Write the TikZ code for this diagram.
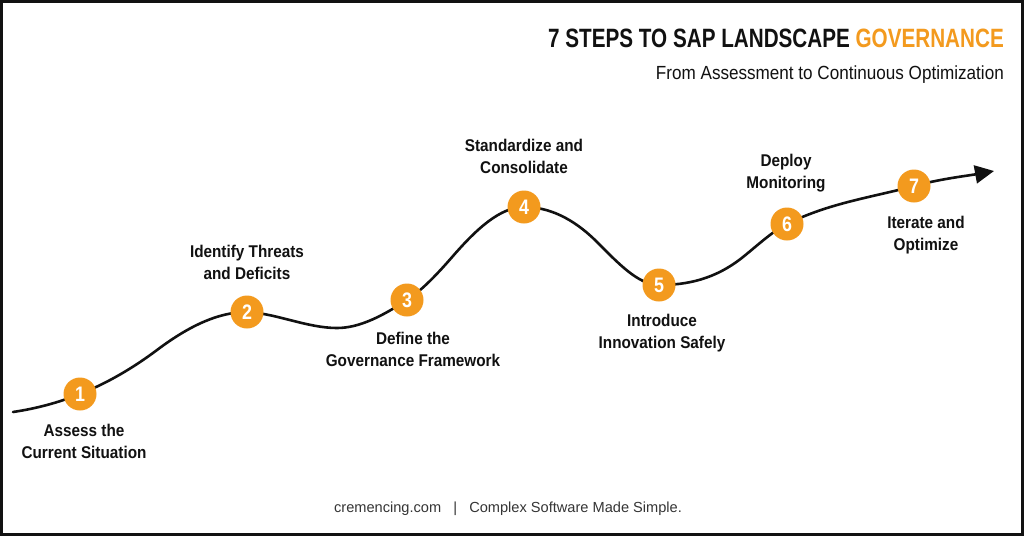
\documentclass[tikz,border=0pt]{standalone}
\usepackage{fontspec}
\setmainfont{Liberation Sans}
\newfontfamily\condT[FakeStretch=0.78]{Liberation Sans}
\newfontfamily\condS[FakeStretch=0.90]{Liberation Sans}
\newfontfamily\condL[FakeStretch=0.90]{Liberation Sans}
\newfontfamily\condN[FakeStretch=0.85]{Liberation Sans}
\usetikzlibrary{arrows.meta}
\definecolor{orng}{HTML}{F39A1E}
\definecolor{ink}{HTML}{111111}
\tikzset{
  stepdot/.style={circle, fill=orng, minimum size=33pt, inner sep=0pt, text=white, font=\condN\bfseries\fontsize{21}{21}\selectfont},
  steplabel/.style={align=center, text=ink, font=\condL\bfseries\fontsize{17}{22}\selectfont, inner sep=0pt},
  wave/.style={line width=2.6pt, draw=ink, line cap=round},
}
\begin{document}
\begin{tikzpicture}[x=1pt,y=-1pt]
\useasboundingbox (0,0) rectangle (1024,536);
\fill[white] (0,0) rectangle (1024,536);
\draw[line width=2.6pt, ink] (1.5,1.5) rectangle (1022.5,534.5);

% title
\node[anchor=east, inner sep=0pt, font=\condT\bfseries\fontsize{26.5}{26.5}\selectfont] (title) at (1004,38)
  {\textcolor{ink}{7 STEPS TO SAP LANDSCAPE} \textcolor{orng}{GOVERNANCE}};
\node[anchor=east, inner sep=0pt, text=ink, font=\condS\fontsize{19}{19}\selectfont] (sub) at (1004,75)
  {From Assessment to Continuous Optimization};
\node[inner sep=0pt, text=ink!85, font=\fontsize{14.6}{14.6}\selectfont] (foot) at (508,509)
  {cremencing.com\ \ \ |\ \ \ Complex Software Made Simple.};

% step positions
\coordinate (c1) at (80,394);
\coordinate (c2) at (247,312);
\coordinate (c3) at (407,300);
\coordinate (c4) at (524,207);
\coordinate (c5) at (659,285);
\coordinate (c6) at (787,224);
\coordinate (c7) at (914,186);
\coordinate (s) at (13,412);
\coordinate (i1) at (157,350);
\coordinate (m2) at (337,328);
\coordinate (i2) at (453,256);
\coordinate (i3) at (597,242);
\coordinate (i4) at (743,257);
\coordinate (e) at (994,171);

\draw[wave, -{Triangle[length=19pt,width=18pt]}]
  (s) .. controls (35.3,408.7) and (57.7,402.9) .. (c1)
      .. controls (105.7,383.7) and (131.3,369.3) .. (i1)
      .. controls (187,327.5) and (217,312) .. (c2)
      .. controls (277,313.5) and (307,328) .. (m2)
      .. controls (360.3,328) and (383.7,315.1) .. (c3)
      .. controls (422.3,290) and (437.7,273.6) .. (i2)
      .. controls (476.7,228.8) and (500.3,207) .. (c4)
      .. controls (548.3,207) and (572.7,217.7) .. (i3)
      .. controls (617.7,262.7) and (638.3,285) .. (c5)
      .. controls (687,285) and (715,279.4) .. (i4)
      .. controls (757.7,245.2) and (772.3,231.4) .. (c6)
      .. controls (829.3,202.9) and (871.7,197.4) .. (c7)
      .. controls (940.7,178.8) and (967.3,175.8) .. (e);

\node[stepdot] (n1) at (c1) {1};
\node[stepdot] (n2) at (c2) {2};
\node[stepdot] (n3) at (c3) {3};
\node[stepdot] (n4) at (c4) {4};
\node[stepdot] (n5) at (c5) {5};
\node[stepdot] (n6) at (c6) {6};
\node[stepdot] (n7) at (c7) {7};

\node[steplabel] (l1) at (84,441) {Assess the\\Current Situation};
\node[steplabel] (l2) at (247,262) {Identify Threats\\and Deficits};
\node[steplabel] (l3) at (413,349) {Define the\\Governance Framework};
\node[steplabel] (l4) at (524,156) {Standardize and\\Consolidate};
\node[steplabel] (l5) at (662,333) {Introduce\\Innovation Safely};
\node[steplabel] (l6) at (786,173) {Deploy\\Monitoring};
\node[steplabel] (l7) at (926,235) {Iterate and\\Optimize};
\end{tikzpicture}
\end{document}
